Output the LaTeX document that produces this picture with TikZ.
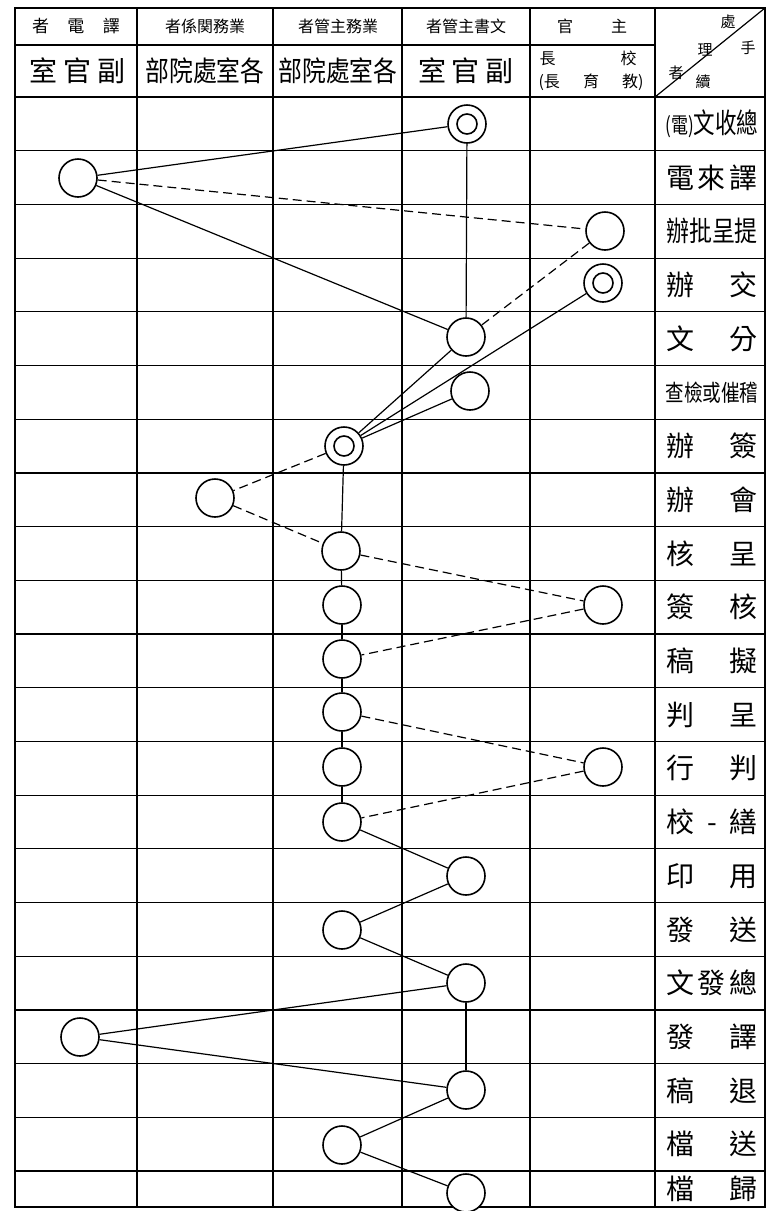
\documentclass[tikz,border=0pt]{standalone}
\usepackage{fontspec}
\usepackage{graphicx}
\newfontfamily\cjk{Noto Sans CJK TC}
\newcommand\spreadlab[2]{\makebox[#1][s]{#2}}
\begin{document}
\begin{tikzpicture}[x=1pt,y=-1pt,
  gridline/.style={line width=1.2pt},
  outerline/.style={line width=2.2pt},
  st/.style={circle,draw,line width=1.6pt,minimum size=38pt,inner sep=0pt,fill=white},
  dst/.style={st,path picture={\draw[line width=1.6pt] (path picture bounding box.center) circle (10pt);}},
  link/.style={line width=1.2pt},
  dlink/.style={line width=1.2pt,dash pattern=on 9pt off 5pt},
  lab/.style={font=\cjk\fontsize{28}{30}\selectfont,inner sep=0pt,anchor=center},
  hd/.style={font=\cjk\fontsize{16}{18}\selectfont,inner sep=0pt},
  hdb/.style={font=\cjk\fontsize{28}{30}\selectfont,inner sep=0pt},
  dg/.style={font=\cjk\fontsize{15}{16}\selectfont,inner sep=0pt},
]
\useasboundingbox (0,0) rectangle (766,1211);
\fill[white] (0,0) rectangle (766,1211);
% grid
\foreach \k in {1,...,20} \draw[gridline] (15,97+53.7*\k) -- (765,97+53.7*\k);
\draw[gridline] (15,45) -- (655,45);
\draw[gridline] (15,97) -- (765,97);
\foreach \xx in {137,273,402,530,655} \draw[gridline] (\xx,8) -- (\xx,1207);
\draw[gridline] (655,97) -- (765,8);
\draw[outerline] (15,8) rectangle (765,1207);
% header row 1
\node[hd,font=\cjk\fontsize{17}{18}\selectfont] (h1a) at (76,26) {\spreadlab{88pt}{者\hfill 電\hfill 譯}};
\node[hd] (h1b) at (205,26) {者係関務業};
\node[hd] (h1c) at (338,26) {者管主務業};
\node[hd] (h1d) at (466,26) {者管主書文};
\node[hd] (h1e) at (592,26) {\spreadlab{70pt}{官\hfill 主}};
% header row 2
\node[hdb] (h2a) at (78,71) {\spreadlab{96pt}{室\hfill 官\hfill 副}};
\node[hdb] (h2b) at (205,71) {\scalebox{0.85}[1]{部院處室各}};
\node[hdb] (h2c) at (338,71) {\scalebox{0.85}[1]{部院處室各}};
\node[hdb] (h2d) at (466,71) {\spreadlab{95pt}{室\hfill 官\hfill 副}};
\node[hd] (h2e) at (588,58) {\spreadlab{97pt}{長\hfill 校}};
\node[hd] (h2f) at (591,82) {\spreadlab{105pt}{(長\hfill 育\hfill 教)}};
% diagonal header
\node[dg] (d1) at (728,22) {處};
\node[dg] (d2) at (705,50) {理};
\node[dg] (d3) at (676,73) {者};
\node[dg] (d4) at (748,48) {手};
\node[dg] (d5) at (703,82) {續};
% row labels
\node[lab] (r1) at (712,123.9) {\scalebox{0.77}[1]{{\fontsize{22}{24}\selectfont(電)}文收總}};
\node[lab] (r2) at (712,177.6) {\spreadlab{92pt}{電\hfill 來\hfill 譯}};
\node[lab] (r3) at (712,231.3) {\scalebox{0.82}[1]{辦批呈提}};
\node[lab] (r4) at (712,285.0) {\spreadlab{92pt}{辦\hfill 交}};
\node[lab] (r5) at (712,338.7) {\spreadlab{92pt}{文\hfill 分}};
\node[lab,font=\cjk\fontsize{23}{25}\selectfont] (r6) at (712,392.4) {\scalebox{0.81}[1]{查檢或催稽}};
\node[lab] (r7) at (712,446.1) {\spreadlab{92pt}{辦\hfill 簽}};
\node[lab] (r8) at (712,499.8) {\spreadlab{92pt}{辦\hfill 會}};
\node[lab] (r9) at (712,553.5) {\spreadlab{92pt}{核\hfill 呈}};
\node[lab] (r10) at (712,607.2) {\spreadlab{92pt}{簽\hfill 核}};
\node[lab] (r11) at (712,660.9) {\spreadlab{92pt}{稿\hfill 擬}};
\node[lab] (r12) at (712,714.6) {\spreadlab{92pt}{判\hfill 呈}};
\node[lab] (r13) at (712,768.3) {\spreadlab{92pt}{行\hfill 判}};
\node[lab] (r14) at (712,822.0) {\spreadlab{92pt}{校\hfill -\hfill 繕}};
\node[lab] (r15) at (712,875.7) {\spreadlab{92pt}{印\hfill 用}};
\node[lab] (r16) at (712,929.4) {\spreadlab{92pt}{發\hfill 送}};
\node[lab] (r17) at (712,983.1) {\spreadlab{92pt}{文\hfill 發\hfill 總}};
\node[lab] (r18) at (712,1036.8) {\spreadlab{92pt}{發\hfill 譯}};
\node[lab] (r19) at (712,1090.5) {\spreadlab{92pt}{稿\hfill 退}};
\node[lab] (r20) at (712,1144.2) {\spreadlab{92pt}{檔\hfill 送}};
\node[lab] (r21) at (712,1189) {\spreadlab{92pt}{檔\hfill 歸}};
% stations
\node[dst] (n1) at (467,124) {};
\node[st] (n2) at (78,178) {};
\node[st] (n3) at (605,231) {};
\node[dst] (n4) at (603,283) {};
\node[st] (n5) at (466,337) {};
\node[st] (n6) at (470,391) {};
\node[dst] (n7) at (344,446) {};
\node[st] (n8) at (215,498) {};
\node[st] (n9) at (341,551) {};
\node[st] (n10a) at (342,605) {};
\node[st] (n10b) at (603,605) {};
\node[st] (n11) at (342,659) {};
\node[st] (n12) at (342,712) {};
\node[st] (n13a) at (342,767) {};
\node[st] (n13b) at (603,767) {};
\node[st] (n14) at (342,822) {};
\node[st] (n15) at (466,876) {};
\node[st] (n16) at (342,930) {};
\node[st] (n17) at (466,983) {};
\node[st] (n18) at (80,1037) {};
\node[st] (n19) at (466,1090) {};
\node[st] (n20) at (342,1145) {};
\node[st] (n21) at (466,1193) {};
% solid links
\draw[link] (n1) -- (n2);
\draw[link] (n1) -- (n5);
\draw[link] (n2) -- (n5);
\draw[link] (n4) -- (n7);
\draw[link] (n5) -- (n7);
\draw[link] (n6) -- (n7);
\draw[link] (n7) -- (n9);
\draw[link] (n9) -- (n10a);
\draw[link] (n10a) -- (n11);
\draw[link] (n11) -- (n12);
\draw[link] (n12) -- (n13a);
\draw[link] (n13a) -- (n14);
\draw[link] (n14) -- (n15);
\draw[link] (n15) -- (n16);
\draw[link] (n16) -- (n17);
\draw[link] (n17) -- (n18);
\draw[link] (n18) -- (n19);
\draw[link] (n17) -- (n19);
\draw[link] (n19) -- (n20);
\draw[link] (n20) -- (n21);
% dashed links
\draw[dlink] (n2) -- (n3);
\draw[dlink] (n3) -- (n5);
\draw[dlink] (n7) -- (n8);
\draw[dlink] (n8) -- (n9);
\draw[dlink] (n9) -- (n10b);
\draw[dlink] (n10b) -- (n11);
\draw[dlink] (n12) -- (n13b);
\draw[dlink] (n13b) -- (n14);
\end{tikzpicture}
\end{document}
